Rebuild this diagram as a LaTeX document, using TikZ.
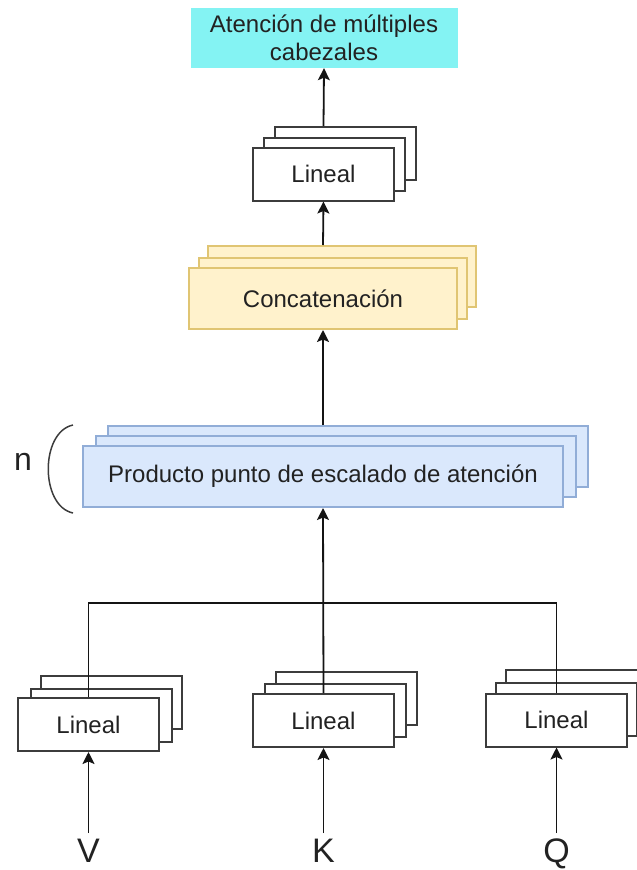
\documentclass[tikz,border=0pt]{standalone}
\usepackage{fontspec}
\setmainfont{Liberation Sans}
\usetikzlibrary{arrows.meta}

\definecolor{txt}{RGB}{34,34,34}
\definecolor{lingray}{RGB}{60,60,60}
\definecolor{linecol}{RGB}{20,20,20}
\definecolor{headfill}{RGB}{132,243,243}
\definecolor{catfill}{RGB}{255,242,204}
\definecolor{catline}{RGB}{224,197,115}
\definecolor{profill}{RGB}{218,232,252}
\definecolor{proline}{RGB}{145,173,215}

\tikzset{
  base/.style={draw, inner sep=0pt, font=\fontsize{24}{28}\selectfont, text=txt, line width=2pt},
  linbox/.style={base, draw=lingray, fill=white, minimum width=141pt, minimum height=53pt},
  catbox/.style={base, draw=catline, fill=catfill, minimum width=268pt, minimum height=61pt},
  probox/.style={base, draw=proline, fill=profill, minimum width=480pt, minimum height=61pt},
  headbox/.style={inner sep=0pt, fill=headfill, minimum width=267pt, minimum height=60pt,
    align=center, font=\fontsize{24}{28}\selectfont, text=txt},
  conn/.style={line width=1.8pt, draw=linecol},
  arr/.style={conn, -{Stealth[length=12pt,width=12pt,inset=2.5pt]}},
  inlabel/.style={font=\fontsize{34}{40}\selectfont, text=txt, inner sep=0pt,
    text height=24.5pt, text depth=0pt, anchor=north}
}

\begin{document}
\begin{tikzpicture}[x=1pt,y=-1pt]
\useasboundingbox (0,0) rectangle (637,870);

% output block
\node[headbox] (head) at (324,38) {Atención de múltiples\\cabezales};

% final linear projection (stack of three)
\node[linbox] (lb) at (345.5,153.5) {};
\node[linbox] (lm) at (334.5,164) {};
\node[linbox] (lf) at (323.5,174) {Lineal};

% concatenation (stack of three)
\node[catbox] (cb) at (341.5,276.5) {};
\node[catbox] (cm) at (333,288.5) {};
\node[catbox] (cf) at (323,298.5) {Concatenación};

% attention heads (stack of three)
\node[probox] (pb) at (347.5,456) {};
\node[probox] (pm) at (335.5,466.5) {};
\node[probox] (pf) at (323,476.5) {Producto punto de escalado de atención};

% repetition marker
\node[font=\fontsize{32}{36}\selectfont, text=txt, inner sep=0pt] (nlabel) at (23,462) {n};
\draw[line width=1.5pt, draw=lingray] (73,425) .. controls (40,432) and (40,506) .. (73,513);

% input projections (three stacks; the rightmost runs past the page edge)
\node[linbox] (l1b) at (111.5,702.5) {};
\node[linbox] (l1m) at (101,715) {};
\node[linbox] (l1f) at (88.5,724.5) {Lineal};

\node[linbox] (l2b) at (346,698.5) {};
\node[linbox] (l2m) at (335.5,710) {};
\node[linbox] (l2f) at (323.5,720.5) {Lineal};

\node[linbox] (l3b) at (576.5,696.5) {};
\node[linbox] (l3m) at (566,709) {};
\node[linbox] (l3f) at (556.5,720) {Lineal};

% inputs
\node[inlabel] (V) at (88.5,838) {V};
\node[inlabel] (K) at (323.5,838) {K};
\node[inlabel] (Q) at (556.5,838) {Q};

% connectors
\coordinate (j) at (323.5,603);
\draw[conn] (l1f.north) |- (j) -| (l3f.north);
\draw[arr] (l2f.north) -- (pf.south);
\draw[arr] (pf.north |- pb.north) -- (cf.south);
\draw[arr] (cf.north |- cb.north) -- (lf.south);
\draw[arr] (lf.north |- lb.north) -- (head.south);

\draw[arr, shorten <=5pt] (V.north) -- (l1f.south);
\draw[arr, shorten <=5pt] (K.north) -- (l2f.south);
\draw[arr, shorten <=5pt] (Q.north) -- (l3f.south);
\end{tikzpicture}
\end{document}
